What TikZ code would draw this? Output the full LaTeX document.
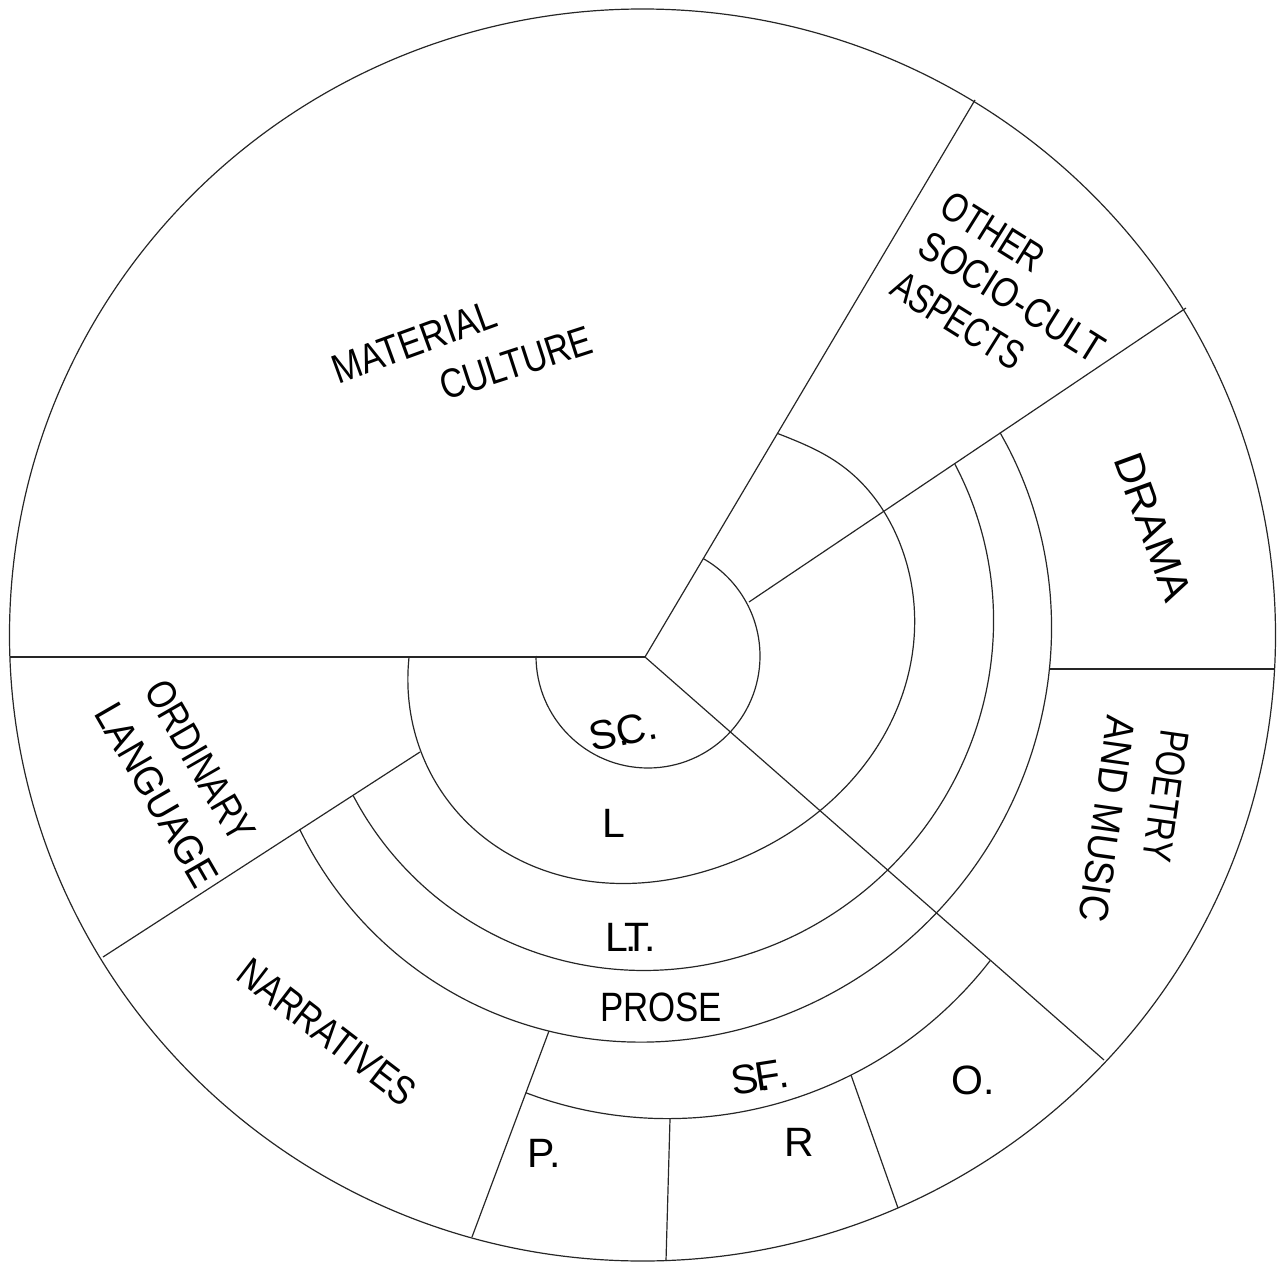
\documentclass[tikz,border=0pt]{standalone}
\usepackage{fontspec}
\usepackage{graphicx}
\newfontfamily\arialfam{Liberation Sans}
\newcommand{\sqz}[2]{\scalebox{#1}[1]{#2}}

\begin{document}
\begin{tikzpicture}[
  x=1pt, y=-1pt,
  declare function={
    rL(\t)=243.15+18*cos(\t+31)+18.85*cos(2*\t+64)-10*exp(-min(((\t+60)/15)*((\t+60)/15),20));
    rT(\t)=339.73+8.33*cos(\t)-27.65*sin(\t)-1.41*cos(2*\t)-4.70*sin(2*\t);
    rP(\t)=397.63+10.4*cos(\t)-15.04*sin(\t)-2.54*cos(2*\t)-7.36*sin(2*\t);
    rS(\t)=466.2-0.00983*(\t-67)*(\t-67);
  },
  rim/.style={line width=1.2pt, black!85},
  ring/.style={line width=1.2pt, black!85},
  spoke/.style={line width=1.2pt, black!85},
  lbl/.style={font=\arialfam\fontsize{41}{46}\selectfont, inner sep=0pt},
]
\useasboundingbox (0,0) rectangle (1286,1263);

% ===== Outer rim =====
\draw[rim] (642.5,635) ellipse [x radius=633, y radius=626];

% ===== Spoke end points =====
\coordinate (hub) at (645,657);
\coordinate (rimW) at (10,657);
\coordinate (rimNE) at (975,100);
\coordinate (rimSE) at (1104,1060);
\coordinate (dramaIn) at (749,602);
\coordinate (dramaOut) at (1186,308);
\coordinate (poetryIn) at (1049,669);
\coordinate (poetryOut) at (1275,669);
\coordinate (langIn) at (420,752);
\coordinate (langOut) at (103,957);
\coordinate (narrIn) at (549,1031);
\coordinate (narrOut) at (472,1237);
\coordinate (pIn) at (670,1119);
\coordinate (pOut) at (666,1261);
\coordinate (rIn) at (851,1075);
\coordinate (rOut) at (898,1208);

% Spokes
\draw[spoke] (hub) -- (rimW);
\draw[spoke] (hub) -- (rimNE);
\draw[spoke] (hub) -- (rimSE);
\draw[spoke] (dramaIn) -- (dramaOut);
\draw[spoke] (poetryIn) -- (poetryOut);
\draw[spoke] (langIn) -- (langOut);
\draw[spoke] (narrIn) -- (narrOut);
\draw[spoke] (pIn) -- (pOut);
\draw[spoke] (rIn) -- (rOut);

% ===== Rings =====
% S.C.
\draw[ring] (648,656) ++(180:112) arc[start angle=180, end angle=-60.6, radius=112];

\begin{scope}[shift={(hub)}]
  % L
  \draw[ring] plot[domain=180:-59.35, samples=90, smooth] (\x:{rL(\x)});
  % L.T.
  \draw[ring] plot[domain=154.6:-31.9, samples=80, smooth] (\x:{rT(\x)});
  % PROSE
  \draw[ring] plot[domain=153.5:-32.3, samples=80, smooth] (\x:{rP(\x)});
  % S.F.
  \draw[ring] plot[domain=105.3:41.3, samples=40, smooth] (\x:{rS(\x)});
\end{scope}

% ===== Labels =====
\node[lbl, rotate=20] (material) at (414,342) {\sqz{0.85}{MATERIAL}};
\node[lbl, rotate=18] (culture) at (516,363) {\sqz{0.83}{CULTURE}};
\node[lbl, rotate=-32] (other) at (993,232) {\sqz{0.79}{OTHER}};
\node[lbl, rotate=-32] (sociocult) at (1012,297) {\sqz{0.84}{SOCIO-CULT}};
\node[lbl, rotate=-32] (aspects) at (958,321) {\sqz{0.77}{ASPECTS}};
\node[lbl, rotate=-70] (drama) at (1153,527) {\sqz{1.04}{DRAMA}};
\node[lbl, rotate=-98] (poetry) at (1166,796) {\sqz{0.79}{POETRY}};
\node[lbl, rotate=-98] (andmusic) at (1107,819) {\sqz{0.90}{AND MUSIC}};
\node[lbl, rotate=-60] (ordinary) at (200,761) {\sqz{0.83}{ORDINARY}};
\node[lbl, rotate=-60] (language) at (157,795) {\sqz{0.90}{LANGUAGE}};
\node[lbl, rotate=-37.5] (narratives) at (327,1032) {\sqz{0.82}{NARRATIVES}};
\node[lbl, rotate=12] (sc) at (623,731) {S.\kern-.28em C.};
\node[lbl] (l) at (614,823) {L};
\node[lbl] (lt) at (631,937) {L\kern-.08em.\kern-.3em T.};
\node[lbl] (prose) at (661,1007) {\sqz{0.85}{PROSE}};
\node[lbl, rotate=9] (sf) at (760,1077) {S.\kern-.36em F\kern-.05em.};
\node[lbl] (p) at (544,1153) {P.};
\node[lbl] (r) at (799,1142) {R};
\node[lbl] (o) at (973,1080) {O.};

\end{tikzpicture}
\end{document}
